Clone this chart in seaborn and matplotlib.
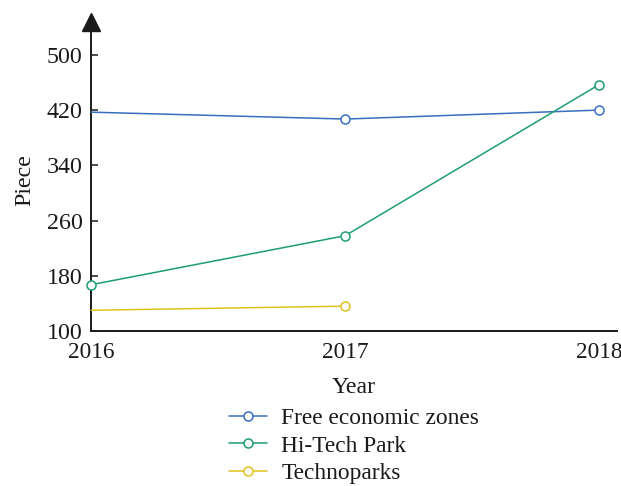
import numpy as np
import pandas as pd
import seaborn as sns
import matplotlib.pyplot as plt
from matplotlib.lines import Line2D

years = [2016, 2017, 2018]
series_names = ["Free economic zones", "Hi-Tech Park", "Technoparks"]
free_zones = [417, 407, 420]
hitech_park = [167, 238, 457]
technoparks = [130, 136, np.nan]
y_ticks = [100, 180, 260, 340, 420, 500]

colors = ["#3a6ec0", "#1e9d74", "#dfc11d"]
# which points carry a hollow marker in the original
marker_points = [[1, 2], [0, 1, 2], [1]]

sns.set_style("white")
plt.rcParams["font.family"] = ["Liberation Serif", "DejaVu Serif"]
plt.rcParams["text.color"] = "#1a1a1a"
plt.rcParams["axes.labelcolor"] = "#1a1a1a"
plt.rcParams["xtick.color"] = "#1a1a1a"
plt.rcParams["ytick.color"] = "#1a1a1a"

df = pd.DataFrame({"Year": years * 3,
                   "Piece": free_zones + hitech_park + technoparks,
                   "Series": np.repeat(series_names, 3)})

fig = plt.figure(figsize=(6.21, 4.86), dpi=100)
ax = fig.add_axes([91 / 621, 1 - 331 / 486, 526 / 621, 301 / 486])

for name, col, mk in zip(series_names, colors, marker_points):
    sub = df[df["Series"] == name]
    sns.lineplot(data=sub, x="Year", y="Piece", ax=ax, color=col, lw=1.1,
                 marker="o", markersize=6.5, markerfacecolor="white",
                 markeredgecolor=col, markeredgewidth=1.1, markevery=mk,
                 legend=False, clip_on=False, zorder=3)

ax.set_xlim(2016, 2018.07)
ax.set_ylim(100, 536)
ax.set_xticks(years)
ax.set_xticklabels([str(y) for y in years])
ax.set_yticks(y_ticks)
ax.tick_params(axis="x", length=0, pad=8, labelsize=16.8)
ax.tick_params(axis="y", direction="in", length=5, width=1.1, pad=6, labelsize=17.3, left=True)

for s in ["top", "right"]:
    ax.spines[s].set_visible(False)
for s in ["left", "bottom"]:
    ax.spines[s].set_color("#1a1a1a")
    ax.spines[s].set_linewidth(1.4)

# arrow head on the y axis
ax.plot(0, 1.028, marker="^", color="#1a1a1a", markersize=12.5, transform=ax.transAxes, clip_on=False)

ax.set_xlabel("Year", fontsize=17.2, labelpad=10)
ax.set_ylabel("Piece", fontsize=17.2, labelpad=8)

handles = [Line2D([], [], color=c, lw=1.1, marker="o", markersize=6.5,
                  markerfacecolor="white", markeredgecolor=c, markeredgewidth=1.1)
           for c in colors]
ax.legend(handles, series_names, loc="upper center", bbox_to_anchor=(0.5, -0.216),
          frameon=False, fontsize=16.8, handlelength=1.65, handletextpad=0.6,
          labelspacing=0.27, borderpad=0)

fig.savefig("out.png", dpi=100)
